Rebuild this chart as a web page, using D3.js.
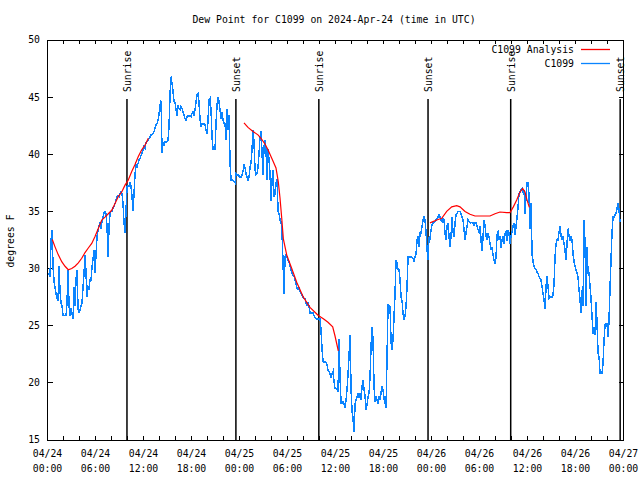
<!DOCTYPE html>
<html><head><meta charset="utf-8">
<script src="https://cdn.jsdelivr.net/npm/d3@7"></script>
<style>
body{margin:0;background:#fff}
text{font-family:"DejaVu Sans Mono","Liberation Mono",monospace;font-size:9.8px;fill:#000}
</style>
</head><body>
<svg id="c" width="640" height="480"></svg>
<script>
// ---------- data ----------
const titleText = "Dew Point for C1099 on 2024-Apr-24 (time in UTC)";
const yLabelText = "degrees F";
const yTicks = [15, 20, 25, 30, 35, 40, 45, 50];
const startTime = "2024-04-24T00:00:00Z";
const endTime = "2024-04-27T00:00:00Z";
const obsFirstTime = "2024-04-24T00:04:00Z";
const obsStepMinutes = 7.5;
const seriesNames = ["C1099 Analysis", "C1099"];

// observed dew point (deg F), one reading per step
const dewObs = [
29.6,29.5,29.3,32.5,33.4,30.2,28.9,28.3,27.8,27.4,
27.2,30.2,28.0,27.0,26.7,25.9,25.9,25.9,25.9,27.0,
29.9,26.7,25.9,26.5,26.1,25.6,28.4,26.7,29.1,29.9,
26.4,26.2,26.4,26.7,27.0,28.4,29.6,31.2,29.6,27.5,
28.4,28.3,29.0,29.0,30.2,30.8,31.6,29.6,31.3,32.8,
33.4,33.7,34.1,33.5,34.2,34.5,34.9,35.0,34.8,33.7,
31.0,33.7,34.8,35.0,35.0,35.3,35.4,35.7,36.0,36.3,
36.4,36.3,36.6,36.7,36.6,35.7,34.0,33.1,35.1,37.2,
37.3,37.2,37.5,37.2,36.3,35.0,36.6,38.3,39.1,38.9,
39.2,39.5,39.6,39.9,40.1,40.4,40.7,40.5,41.0,41.1,
41.2,41.4,41.5,41.7,41.7,41.8,42.0,42.3,42.6,42.7,
43.0,43.5,44.3,44.7,
40.1,41.0,40.8,41.1,41.0,41.1,41.25,42.5,45.3,46.8,
46.2,45.5,44.6,44.5,43.9,43.4,44.3,44.0,43.9,44.2,
44.0,43.7,43.4,43.1,43.0,43.3,43.4,43.3,43.4,43.3,
43.6,43.7,43.4,43.9,44.6,45.2,45.3,44.5,43.1,42.4,
42.7,42.6,42.7,42.6,42.1,41.8,43.0,44.75,44.9,43.9,
41.5,40.4,40.4,40.4,42.7,44.3,45.0,44.6,43.9,43.1,
43.7,43.0,42.7,42.7,41.25,44.0,42.1,43.4,39.2,37.75,
37.75,37.7,37.6,37.5,38.3,38.2,38.2,38.1,38.0,38.0,
38.2,38.5,39.1,38.8,38.3,38.0,37.75,38.0,38.9,39.2,
40.4,42.1,41.0,38.6,38.2,38.3,38.9,40.1,41.5,42.0,
40.1,38.2,40.7,41.25,40.4,37.75,40.5,39.5,38.3,35.9,
37.75,38.6,36.3,
36.5,37.5,37.8,35.0,34.8,34.25,34.1,33.1,30.5,27.8,
31.0,31.2,31.0,30.7,30.6,30.2,29.9,29.6,29.4,29.3,
29.0,28.7,28.3,28.2,28.3,28.0,27.8,27.7,27.5,27.4,
27.4,27.0,26.8,27.0,26.7,26.1,26.1,26.1,26.1,25.9,
25.7,25.6,25.6,25.6,25.6,25.6,24.6,22.9,21.9,21.8,
21.9,21.8,21.6,21.1,21.0,20.8,20.5,20.8,21.0,20.1,
19.5,19.5,19.4,19.2,23.8,20.5,18.2,18.2,18.35,18.2,
17.8,18.5,19.4,20.8,22.3,24.2,19.5,17.5,16.9,15.7,
18.1,18.5,18.8,19.1,18.7,19.1,18.5,19.7,20.25,19.4,
18.9,17.6,18.1,18.8,19.1,20.5,23.2,24.9,23.75,19.7,
18.35,18.8,18.5,18.2,18.8,18.5,19.1,19.7,19.4,
18.6,18.3,17.8,22.3,26.8,26.8,26.7,23.6,22.9,23.8,
25.8,27.8,30.75,30.5,29.9,29.9,29.0,27.5,27.2,26.1,
25.6,25.8,26.7,28.4,31.0,31.0,31.0,31.0,31.0,30.9,
30.6,31.0,31.3,32.5,32.8,31.9,33.1,33.1,33.7,34.25,
34.5,34.25,33.2,31.6,30.75,32.8,32.5,33.4,33.8,34.0,
34.05,34.1,34.25,34.4,34.5,34.7,34.5,34.25,34.1,34.4,
34.25,33.1,32.5,33.7,34.0,32.8,31.9,32.8,34.5,33.2,
32.8,34.0,34.7,34.8,35.0,35.0,35.0,34.8,34.5,34.25,
33.4,32.5,33.1,33.7,34.25,34.1,34.0,34.0,34.05,34.0,
33.8,34.0,34.0,33.7,33.4,33.2,33.7,32.5,31.5,32.8,
34.25,33.8,32.9,32.5,33.1,32.8,32.2,31.6,31.9,31.2,
30.75,30.5,31.0,
33.0,33.2,32.5,32.8,31.8,32.5,32.8,32.2,33.1,33.2,
32.4,33.4,33.1,32.2,32.8,33.2,33.7,34.0,32.9,33.7,
34.5,35.4,36.6,36.7,36.9,37.0,36.6,36.9,34.8,36.3,
37.5,37.5,36.4,33.5,35.7,31.3,30.6,30.2,30.0,29.9,
29.7,29.6,29.3,29.1,29.0,28.4,27.8,27.25,26.5,28.4,
29.3,28.4,27.4,27.5,27.5,27.5,27.7,28.7,31.0,32.2,
32.5,32.5,33.2,33.7,32.9,32.5,32.8,32.2,31.6,30.75,
32.2,33.5,32.8,32.5,32.8,32.5,31.3,30.6,30.2,29.9,
29.6,29.3,28.1,27.25,26.1,28.1,26.7,34.25,32.2,26.7,
31.9,29.6,29.6,28.4,27.4,25.8,24.3,24.9,24.2,27.1,
25.2,22.6,22.3,20.8,20.8,20.8,21.7,23.75,25.1,25.2,
25.2,24.0,25.5,28.4,30.75,33.2,34.5,34.5,34.7,34.8,
35.3,35.7,35.1,34.1
];

// analysis (hours since start, deg F), three pieces
const anaHoursA = [0.6,0.94,1.35,1.78,2.19,2.6,3.03,3.44,3.85,4.28,4.69,5.1,5.53,5.94,6.35,6.78,7.19,7.6,8.03,8.44,8.85,9.28,9.69,10.1,10.53,10.94,11.35,11.78,12.19,12.6];
const anaDewA   = [32.55,31.9,31.2,30.6,30.2,29.9,30.0,30.2,30.5,30.9,31.4,31.8,32.2,32.8,33.5,34.25,34.5,34.8,35.1,35.7,36.3,36.7,37.3,37.75,38.5,39.1,39.8,40.4,40.8,41.4];
const anaHoursB = [24.56,25.06,25.69,26.31,26.69,27.19,27.56,28.06,28.56,28.85,29.06,29.28,29.48,29.9,30.53,31.15,31.98,32.81,33.85,34.48,35.06,35.65,35.94,36.35];
const anaDewB   = [42.75,42.35,42.0,41.7,41.4,40.9,40.4,39.6,38.8,37.6,36.2,34.4,32.6,31.2,30.0,28.8,27.5,26.6,25.9,25.6,25.3,24.9,24.1,22.8];
const anaHoursC = [47.81,48.65,49.28,49.9,50.53,51.15,51.56,52.19,52.81,53.44,54.48,55.31,55.94,56.56,57.4,57.81,58.23,58.65,59.06,59.4,59.69,59.9,60.23];
const anaDewC   = [34.0,34.25,34.4,35.0,35.4,35.5,35.4,35.0,34.75,34.6,34.6,34.6,34.8,34.95,34.9,34.9,35.4,36.0,36.7,37.0,36.7,36.1,35.35];

const sunLabels = ["Sunrise","Sunset","Sunrise","Sunset","Sunrise","Sunset"];
const sunTimes  = ["2024-04-24T09:56Z","2024-04-24T23:33Z","2024-04-25T09:55Z","2024-04-25T23:34Z","2024-04-26T09:54Z","2024-04-26T23:35Z"];

// ---------- drawing ----------
const svg = d3.select("#c");
const L = 47.5, R = 623.5, T = 40, B = 440;
const t0 = new Date(startTime), t1 = new Date(endTime);
const x = d3.scaleUtc().domain([t0, t1]).range([L, R]);
const y = d3.scaleLinear().domain([15, 50]).range([B, T]);
const hr = h => new Date(t0.getTime() + h * 3600e3);

const obsStart = new Date(obsFirstTime).getTime();
const obs = dewObs.map((v, i) => ({t: new Date(obsStart + i * obsStepMinutes * 60e3), v}));

// title
svg.append("text").attr("x", 334).attr("y", 20).attr("dy", "0.35em")
  .attr("text-anchor", "middle").text(titleText);
// y label
svg.append("text").attr("transform", "translate(11,241) rotate(-90)")
  .attr("text-anchor", "middle").attr("dy", "0.35em").text(yLabelText);

// border
svg.append("rect").attr("x", L).attr("y", T).attr("width", R - L).attr("height", B - T)
  .attr("fill", "none").attr("stroke", "#000").attr("stroke-width", 1).attr("shape-rendering", "crispEdges");

// y ticks + labels
const gy = svg.append("g").attr("shape-rendering", "crispEdges");
yTicks.forEach(v => {
  gy.append("line").attr("x1", L).attr("x2", L + 5).attr("y1", y(v)).attr("y2", y(v)).attr("stroke", "#000");
  gy.append("line").attr("x1", R).attr("x2", R - 5).attr("y1", y(v)).attr("y2", y(v)).attr("stroke", "#000");
  svg.append("text").attr("x", 40).attr("y", y(v)).attr("dy", "0.35em").attr("text-anchor", "end").text(v);
});

// x ticks (every 2 h) and labels (every 6 h)
const gx = svg.append("g").attr("shape-rendering", "crispEdges");
d3.utcHour.every(2).range(t0, t1).forEach(d => {
  gx.append("line").attr("x1", x(d)).attr("x2", x(d)).attr("y1", B).attr("y2", B - 4).attr("stroke", "#000");
  gx.append("line").attr("x1", x(d)).attr("x2", x(d)).attr("y1", T).attr("y2", T + 4).attr("stroke", "#000");
});
const fDay = d3.utcFormat("%m/%d"), fTime = d3.utcFormat("%H:%M");
x.ticks(d3.utcHour.every(6)).forEach(d => {
  const tx = svg.append("text").attr("text-anchor", "middle");
  tx.append("tspan").attr("x", x(d)).attr("y", 457).text(fDay(d));
  tx.append("tspan").attr("x", x(d)).attr("y", 472).text(fTime(d));
});

// sunrise / sunset markers
sunTimes.forEach((s, i) => {
  const sx = x(new Date(s));
  svg.append("line").attr("x1", sx).attr("x2", sx).attr("y1", 99).attr("y2", B)
    .attr("stroke", "#000").attr("stroke-width", 1.5);
  svg.append("text").attr("transform", `translate(${sx + 0.5},92) rotate(-90)`)
    .attr("dy", "0.35em").attr("text-anchor", "start").text(sunLabels[i]);
});

// observed line
const line = d3.line().x(d => x(d.t)).y(d => y(d.v));
svg.append("path").datum(obs).attr("d", line)
  .attr("fill", "none").attr("stroke", "#0a84ff").attr("stroke-width", 1.5)
  .attr("shape-rendering", "crispEdges");

// analysis
[[anaHoursA, anaDewA], [anaHoursB, anaDewB], [anaHoursC, anaDewC]].forEach(([hs, vs]) => {
  const pts = hs.map((h, i) => ({t: hr(h), v: vs[i]}));
  svg.append("path").datum(pts).attr("d", line)
    .attr("fill", "none").attr("stroke", "#ff0000").attr("stroke-width", 1.2);
});

// legend
const legColors = ["#ff0000", "#0a84ff"];
seriesNames.forEach((n, i) => {
  const ly = 50 + i * 14;
  svg.append("text").attr("x", 574).attr("y", ly).attr("dy", "0.35em").attr("text-anchor", "end").text(n);
  svg.append("line").attr("x1", 581).attr("x2", 610).attr("y1", ly - 0.5).attr("y2", ly - 0.5)
    .attr("stroke", legColors[i]).attr("stroke-width", 1.3);
});
</script>
</body></html>
